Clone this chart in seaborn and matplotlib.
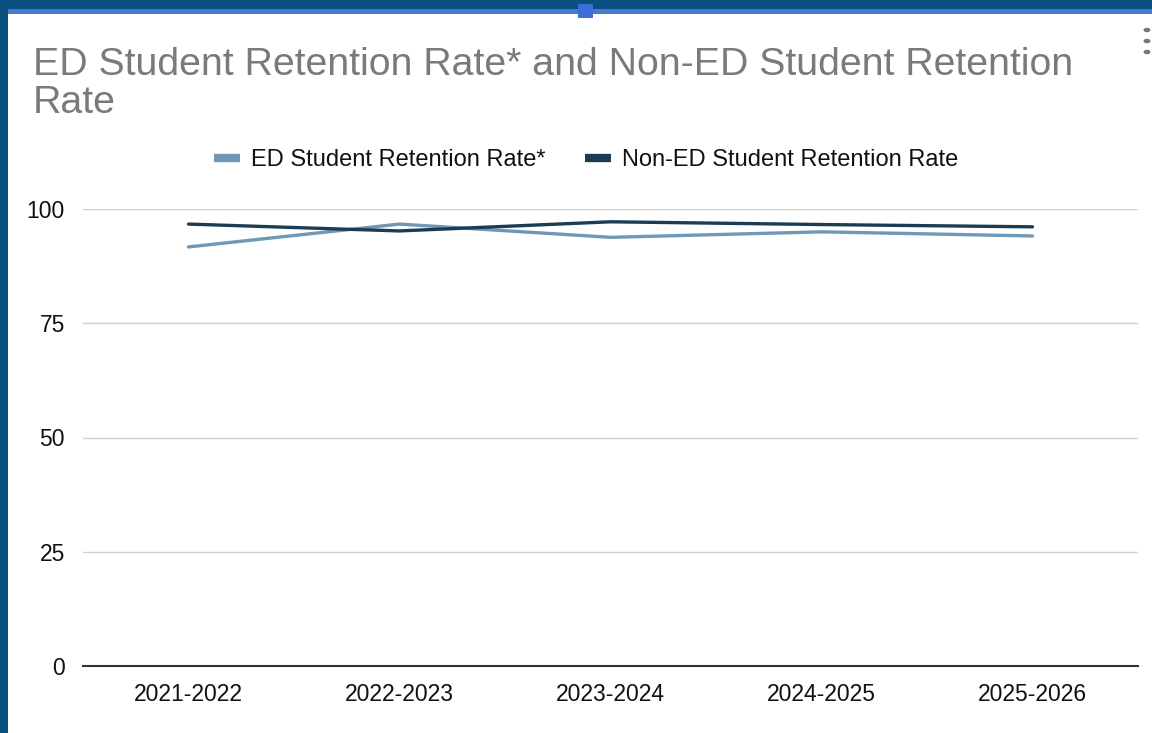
import numpy as np
import pandas as pd
import matplotlib
matplotlib.use("Agg")
import matplotlib.pyplot as plt
import seaborn as sns
from matplotlib.patches import Rectangle, Circle
from matplotlib.lines import Line2D

# data
years = ["2021-2022", "2022-2023", "2023-2024", "2024-2025", "2025-2026"]
ed_rate = [91.7, 96.7, 93.8, 95.0, 94.1]
non_ed_rate = [96.7, 95.2, 97.2, 96.6, 96.1]
series_names = ["ED Student Retention Rate*", "Non-ED Student Retention Rate"]
y_ticks = [0, 25, 50, 75, 100]

df = pd.DataFrame({
    "year": years * 2,
    "rate": ed_rate + non_ed_rate,
    "series": [series_names[0]] * len(years) + [series_names[1]] * len(years),
})

sns.set_theme(style="white")
plt.rcParams["font.family"] = ["Liberation Sans", "DejaVu Sans"]

W, H = 1152, 733
fig = plt.figure(figsize=(W / 100, H / 100), dpi=100, facecolor="#0a4f7e")

# white card with thin blue top strip (screenshot frame)
fig.patches.append(Rectangle((8 / W, 0), 1 - 8 / W, 1 - 14 / H, transform=fig.transFigure,
                             facecolor="white", edgecolor="none", zorder=0))
fig.patches.append(Rectangle((8 / W, 1 - 14 / H), 1 - 8 / W, 5 / H, transform=fig.transFigure,
                             facecolor="#4a78c8", edgecolor="none", zorder=1))
fig.patches.append(Rectangle((578 / W, 1 - 18 / H), 15 / W, 14 / H, transform=fig.transFigure,
                             facecolor="#3a6fd8", edgecolor="none", zorder=2))
for yy in [30, 41, 52]:
    fig.patches.append(Circle((1147 / W, 1 - yy / H), 3.5 / W, transform=fig.transFigure,
                              facecolor="#777777", edgecolor="none", zorder=2))

ax = fig.add_axes([83 / W, (H - 666) / H, (1138 - 83) / W, (666 - 209) / H])
ax.set_zorder(5)
ax.set_facecolor("none")

palette = {series_names[0]: "#6f97b6", series_names[1]: "#1a3d54"}
sns.lineplot(data=df, x="year", y="rate", hue="series", palette=palette,
             linewidth=2.4, ax=ax, sort=False, legend=False)
for l in ax.lines:
    l.set_clip_on(False)

ax.set_xlim(-0.5, 4.5)
ax.set_ylim(0, 100)
ax.set_yticks(y_ticks)
ax.set_yticklabels([str(t) for t in y_ticks])
ax.yaxis.grid(True, color="#cfcfcf", linewidth=1)
ax.set_axisbelow(True)
for s in ["top", "right", "left"]:
    ax.spines[s].set_visible(False)
ax.spines["bottom"].set_color("#333333")
ax.spines["bottom"].set_linewidth(1.5)
ax.tick_params(axis="x", length=0, pad=12, labelsize=16.5, colors="#111111")
ax.tick_params(axis="y", length=0, pad=13, labelsize=16.5, colors="#111111")
ax.set_xlabel("")
ax.set_ylabel("")

# legend
handles = [Line2D([0], [0], color=palette[n], linewidth=6, solid_capstyle="butt")
           for n in series_names]
fig.legend(handles, series_names, loc="center", bbox_to_anchor=(586 / W, 1 - 160 / H),
           ncol=2, frameon=False, fontsize=17, handlelength=1.1, handletextpad=0.45,
           columnspacing=1.7, labelcolor="#111111")

fig.text(33 / W, 1 - 65 / H, "ED Student Retention Rate* and Non-ED Student Retention",
         fontsize=28.3, color="#7a7a7a", va="center", ha="left")
fig.text(33 / W, 1 - 103 / H, "Rate", fontsize=28.3, color="#7a7a7a", va="center", ha="left")

fig.savefig("out.png", dpi=100, facecolor=fig.get_facecolor())
